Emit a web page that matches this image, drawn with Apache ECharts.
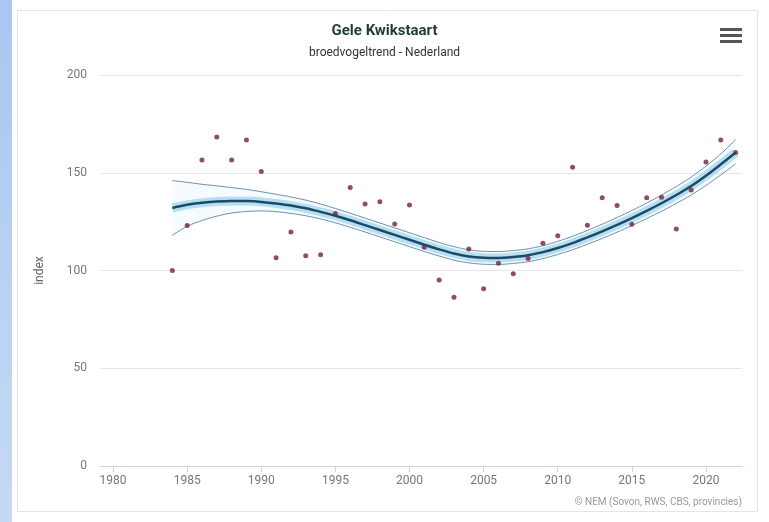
<!DOCTYPE html>
<html>
<head>
<meta charset="utf-8">
<script src="https://cdn.jsdelivr.net/npm/echarts@6/dist/echarts.min.js"></script>
<style>
html,body{margin:0;padding:0;background:#fff;}
#chart{width:769px;height:522px;}
</style>
</head>
<body>
<div id="chart"></div>
<script>
const years = [1984,1985,1986,1987,1988,1989,1990,1991,1992,1993,1994,1995,1996,1997,1998,1999,2000,2001,2002,2003,2004,2005,2006,2007,2008,2009,2010,2011,2012,2013,2014,2015,2016,2017,2018,2019,2020,2021,2022];
const indexValues = [100,123,156.5,168.3,156.5,166.8,150.7,106.5,119.7,107.6,108.1,129.2,142.4,134,135.2,123.8,133.5,111.9,95.1,86.3,111,90.7,103.7,98.4,106.2,114,117.8,152.8,123.1,137.2,133.3,123.6,137.2,137.5,121.2,141.2,155.5,166.8,160.3];
const trend = [132,133.6,134.6,135.3,135.6,135.5,135.1,134.3,133.2,131.8,130,128,125.7,123.2,120.7,118.2,115.7,113.2,110.8,108.7,107.2,106.5,106.4,106.9,107.8,109.4,111.5,114,116.9,120,123.3,126.8,130.5,134.4,138.6,143.2,148.5,154.3,160.3];
const upper = [146,145.1,144.1,143.3,142.4,141.5,140.3,139,137.6,136,134,131.7,129.3,126.8,124.3,121.8,119.3,116.8,114.3,112.2,110.6,109.8,109.7,110.2,111.1,112.7,114.9,117.5,120.5,123.7,127.1,130.7,134.5,138.6,143,147.8,153.4,159.6,167];
const lower = [118,122.6,125.6,127.8,129.4,130.2,130.5,130.1,129.2,128,126.4,124.4,122.1,119.7,117.2,114.7,112.2,109.7,107.4,105.3,103.9,103.2,103.1,103.6,104.5,106.1,108.2,110.6,113.4,116.4,119.6,123,126.6,130.3,134.3,138.6,143.5,148.9,154.5];
const xTicks = [1980,1985,1990,1995,2000,2005,2010,2015,2020];
const titleText = 'Gele Kwikstaart';
const subtitleText = 'broedvogeltrend - Nederland';
const yAxisName = 'index';
const creditText = '\u00a9 NEM (Sovon, RWS, CBS, provincies)';

const pair = (arr) => years.map((y, i) => [y, arr[i]]);
const FONT = 'Roboto, "Liberation Sans", sans-serif';

const chart = echarts.init(document.getElementById('chart'), null, {renderer: 'canvas'});
chart.setOption({
  backgroundColor: '#fff',
  animation: false,
  textStyle: {fontFamily: FONT},
  title: {
    text: titleText,
    subtext: subtitleText,
    left: 'center',
    top: 19,
    itemGap: 8,
    textStyle: {fontSize: 15, fontWeight: 'bold', color: '#1f3b3b', fontFamily: FONT},
    subtextStyle: {fontSize: 12, color: '#333', fontFamily: FONT}
  },
  grid: {left: 100, right: 27, top: 75, bottom: 56},
  xAxis: {
    type: 'value',
    min: 1979.12,
    max: 2022.43,
    axisLine: {show: true, lineStyle: {color: '#ccd6eb'}},
    axisTick: {show: true, length: 6, lineStyle: {color: '#ccd6eb'}, customValues: xTicks},
    axisLabel: {color: '#777', fontSize: 12, margin: 9, customValues: xTicks, formatter: v => String(v)},
    splitLine: {show: false}
  },
  yAxis: {
    type: 'value',
    min: 0,
    max: 200,
    interval: 50,
    name: yAxisName,
    nameLocation: 'middle',
    nameGap: 54,
    nameTextStyle: {color: '#666', fontSize: 12},
    axisLine: {show: false},
    axisTick: {show: false},
    axisLabel: {color: '#777', fontSize: 12, margin: 13},
    splitLine: {lineStyle: {color: '#e6e6e6'}}
  },
  graphic: [
    {type: 'rect', z: -10, silent: true, shape: {x: 0, y: 0, width: 12, height: 522},
      style: {fill: new echarts.graphic.LinearGradient(0, 0, 0, 1, [{offset: 0, color: '#a9c7f2'}, {offset: 1, color: '#c6d9f4'}])}},
    {type: 'rect', z: -10, silent: true, shape: {x: 17.5, y: 10.5, width: 740, height: 501},
      style: {fill: '#fff', stroke: '#e4e4e4', lineWidth: 1}},
    {type: 'rect', silent: true, shape: {x: 720, y: 28, width: 22, height: 3}, style: {fill: '#555'}},
    {type: 'rect', silent: true, shape: {x: 720, y: 34, width: 22, height: 3}, style: {fill: '#555'}},
    {type: 'rect', silent: true, shape: {x: 720, y: 40, width: 22, height: 3}, style: {fill: '#555'}},
    {type: 'text', silent: true, right: 27, top: 497,
      style: {text: creditText, fill: '#999', fontSize: 10, fontFamily: FONT}}
  ],
  series: [
    {
      type: 'custom',
      silent: true,
      z: 1,
      data: years.map((y, i) => [y, lower[i], upper[i]]),
      renderItem: function (params, api) {
        if (params.dataIndex !== 0) return null;
        const pts = [];
        for (let i = 0; i < years.length; i++) pts.push(api.coord([years[i], upper[i]]));
        for (let i = years.length - 1; i >= 0; i--) pts.push(api.coord([years[i], lower[i]]));
        return {type: 'polygon', shape: {points: pts}, style: {fill: 'rgba(150,210,235,0.09)'}};
      }
    },
    {type: 'line', data: pair(trend), smooth: 0.3, symbol: 'none', silent: true, z: 2,
      lineStyle: {color: 'rgba(130,200,232,0.55)', width: 9}},
    {type: 'line', data: pair(upper), smooth: 0.3, symbol: 'none', silent: true, z: 3,
      lineStyle: {color: '#6a93b0', width: 1}},
    {type: 'line', data: pair(lower), smooth: 0.3, symbol: 'none', silent: true, z: 3,
      lineStyle: {color: '#6a93b0', width: 1}},
    {type: 'line', data: pair(trend), smooth: 0.3, symbol: 'none', silent: true, z: 4,
      lineStyle: {color: '#1c4a66', width: 2.5}},
    {type: 'scatter', data: pair(indexValues), symbolSize: 5, z: 5,
      itemStyle: {color: '#74233a'}}
  ]
});
</script>
</body>
</html>
